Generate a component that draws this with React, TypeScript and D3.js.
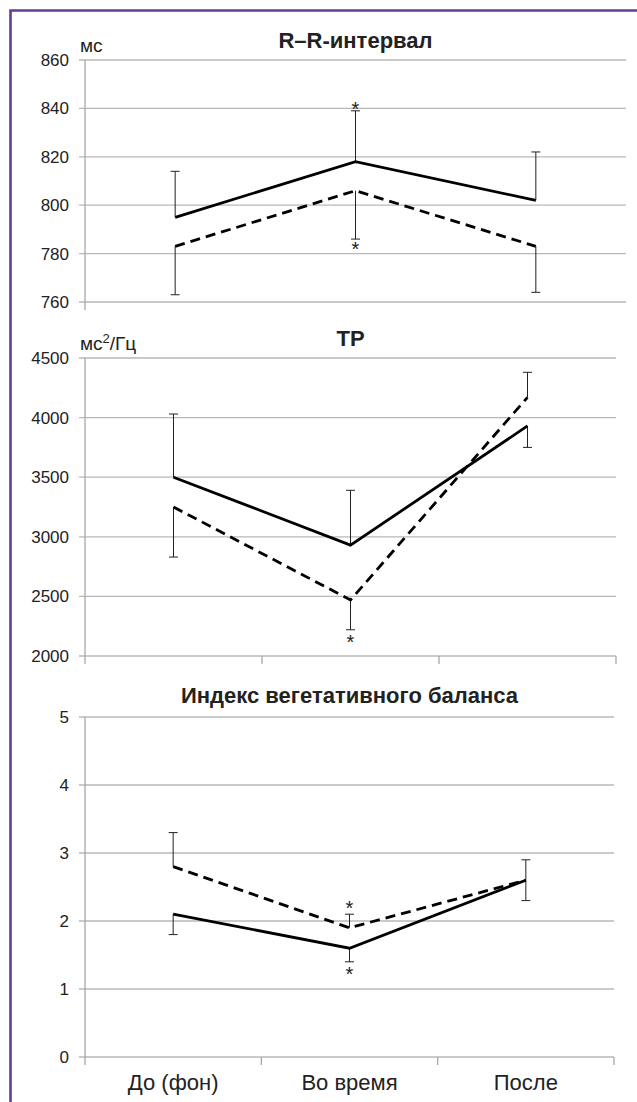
import React from "react";
import * as d3 from "d3";

const categories = ["До (фон)", "Во время", "После"];

// R–R interval (ms)
const rrTicks = [760, 780, 800, 820, 840, 860];
const rrSolid = [795, 818, 802];
const rrDashed = [783, 806, 783];
const rrSolidErr = [814, 839, 822];
const rrDashedErr = [763, 786, 764];
const rrStars = [
  { cat: 1, series: "solid" },
  { cat: 1, series: "dashed" },
];

// TP (ms²/Hz)
const tpTicks = [2000, 2500, 3000, 3500, 4000, 4500];
const tpSolid = [3500, 2930, 3930];
const tpDashed = [3250, 2470, 4170];
const tpSolidErr = [4030, 3390, 3750];
const tpDashedErr = [2830, 2220, 4380];
const tpStars = [{ cat: 1, series: "dashed" }];

// Vegetative balance index
const ivbTicks = [0, 1, 2, 3, 4, 5];
const ivbSolid = [2.1, 1.6, 2.6];
const ivbDashed = [2.8, 1.9, 2.6];
const ivbSolidErr = [1.8, 1.4, 2.3];
const ivbDashedErr = [3.3, 2.1, 2.9];
const ivbStars = [
  { cat: 1, series: "dashed" },
  { cat: 1, series: "solid" },
];

const FONT = "'Liberation Sans', Arial, sans-serif";
const GRID = "#b8b8b8";
const AXIS = "#a8a8a8";
const TEXT = "#222";

type Panel = {
  title: string;
  unit: React.ReactNode;
  ticks: number[];
  solid: number[];
  dashed: number[];
  solidErr: number[];
  dashedErr: number[];
  stars: { cat: number; series: string }[];
  x0: number;
  x1: number;
  yTop: number;
  yBot: number;
  titleY: number;
  unitY: number;
  xTicks: boolean;
  starGap: number[];
};

const panels: Panel[] = [
  {
    title: "R–R-интервал",
    unit: "мс",
    ticks: rrTicks,
    solid: rrSolid,
    dashed: rrDashed,
    solidErr: rrSolidErr,
    dashedErr: rrDashedErr,
    stars: rrStars,
    x0: 85,
    x1: 626,
    yTop: 60,
    yBot: 302,
    titleY: 48,
    unitY: 52,
    xTicks: false,
    starGap: [6, 6],
  },
  {
    title: "TP",
    unit: (
      <>
        мс<tspan baselineShift="super" fontSize={13}>2</tspan>/Гц
      </>
    ),
    ticks: tpTicks,
    solid: tpSolid,
    dashed: tpDashed,
    solidErr: tpSolidErr,
    dashedErr: tpDashedErr,
    stars: tpStars,
    x0: 85,
    x1: 616,
    yTop: 358,
    yBot: 656,
    titleY: 346,
    unitY: 350,
    xTicks: true,
    starGap: [8, 8],
  },
  {
    title: "Индекс вегетативного баланса",
    unit: "",
    ticks: ivbTicks,
    solid: ivbSolid,
    dashed: ivbDashed,
    solidErr: ivbSolidErr,
    dashedErr: ivbDashedErr,
    stars: ivbStars,
    x0: 85,
    x1: 614,
    yTop: 717,
    yBot: 1057,
    titleY: 703,
    unitY: 700,
    xTicks: true,
    starGap: [10, 8],
  },
];

function ChartPanel({ p, showLabels }: { p: Panel; showLabels: boolean }) {
  const x = d3.scalePoint<string>().domain(categories).range([p.x0, p.x1]).padding(0.5);
  const band = (p.x1 - p.x0) / categories.length;
  const y = d3
    .scaleLinear()
    .domain([p.ticks[0], p.ticks[p.ticks.length - 1]])
    .range([p.yBot, p.yTop]);
  const line = d3
    .line<number>()
    .x((_, i) => x(categories[i]) as number)
    .y((d) => y(d));

  const errBars = (vals: number[], errs: number[], key: string) =>
    vals.map((v, i) => {
      const cx = x(categories[i]) as number;
      return (
        <g key={key + i} stroke="#222" strokeWidth={1}>
          <line x1={cx} x2={cx} y1={y(v)} y2={y(errs[i])} />
          <line x1={cx - 4.5} x2={cx + 4.5} y1={y(errs[i])} y2={y(errs[i])} />
        </g>
      );
    });

  return (
    <g>
      {p.ticks.map((t) => (
        <line key={"g" + t} x1={p.x0 - 6} x2={p.x1} y1={y(t)} y2={y(t)} stroke={GRID} strokeWidth={1.3} />
      ))}
      <line x1={p.x0} x2={p.x0} y1={p.yTop} y2={p.yBot + 8} stroke={AXIS} strokeWidth={1.3} />
      {p.xTicks &&
        d3.range(1, categories.length + 1).map((k) => (
          <line
            key={"xt" + k}
            x1={p.x0 + band * k}
            x2={p.x0 + band * k}
            y1={p.yBot}
            y2={p.yBot + 8}
            stroke={AXIS}
            strokeWidth={1.3}
          />
        ))}
      {p.ticks.map((t) => (
        <text
          key={"t" + t}
          x={69}
          y={y(t) + 6}
          textAnchor="end"
          fontSize={17}
          fill={TEXT}
          fontFamily={FONT}
        >
          {t}
        </text>
      ))}
      <text
        x={(p.x0 + p.x1) / 2}
        y={p.titleY}
        textAnchor="middle"
        fontSize={22}
        fontWeight="bold"
        fill={TEXT}
        fontFamily={FONT}
      >
        {p.title}
      </text>
      <text x={80} y={p.unitY} fontSize={19} fill={TEXT} fontFamily={FONT}>
        {p.unit}
      </text>
      {errBars(p.solid, p.solidErr, "se")}
      {errBars(p.dashed, p.dashedErr, "de")}
      <path d={line(p.solid) || ""} fill="none" stroke="#000" strokeWidth={2.8} />
      <path
        d={line(p.dashed) || ""}
        fill="none"
        stroke="#000"
        strokeWidth={2.8}
        strokeDasharray="10,6"
      />
      {p.stars.map((s, i) => {
        const vals = s.series === "solid" ? p.solid : p.dashed;
        const errs = s.series === "solid" ? p.solidErr : p.dashedErr;
        const v = vals[s.cat];
        const e = errs[s.cat];
        const up = e > v;
        const cy = up ? y(e) - p.starGap[0] : y(e) + p.starGap[1];
        return (
          <text
            key={"s" + i}
            x={x(categories[s.cat]) as number}
            y={cy + 11}
            textAnchor="middle"
            fontSize={20}
            fill="#222"
            fontFamily={FONT}
          >
            *
          </text>
        );
      })}
      {showLabels &&
        categories.map((c) => (
          <text
            key={c}
            x={x(c) as number}
            y={1090}
            textAnchor="middle"
            fontSize={22}
            fill={TEXT}
            fontFamily={FONT}
          >
            {c}
          </text>
        ))}
    </g>
  );
}

export default function App() {
  return (
    <svg
      width={637}
      height={1102}
      style={{ position: "absolute", left: 0, top: 0, background: "#fff" }}
    >
      <rect width={637} height={1102} fill="#fff" />
      {panels.map((p, i) => (
        <ChartPanel key={i} p={p} showLabels={i === panels.length - 1} />
      ))}
      <path d="M10.5,1102 V10.5 H637" fill="none" stroke="#603d99" strokeWidth={2.6} />
    </svg>
  );
}
